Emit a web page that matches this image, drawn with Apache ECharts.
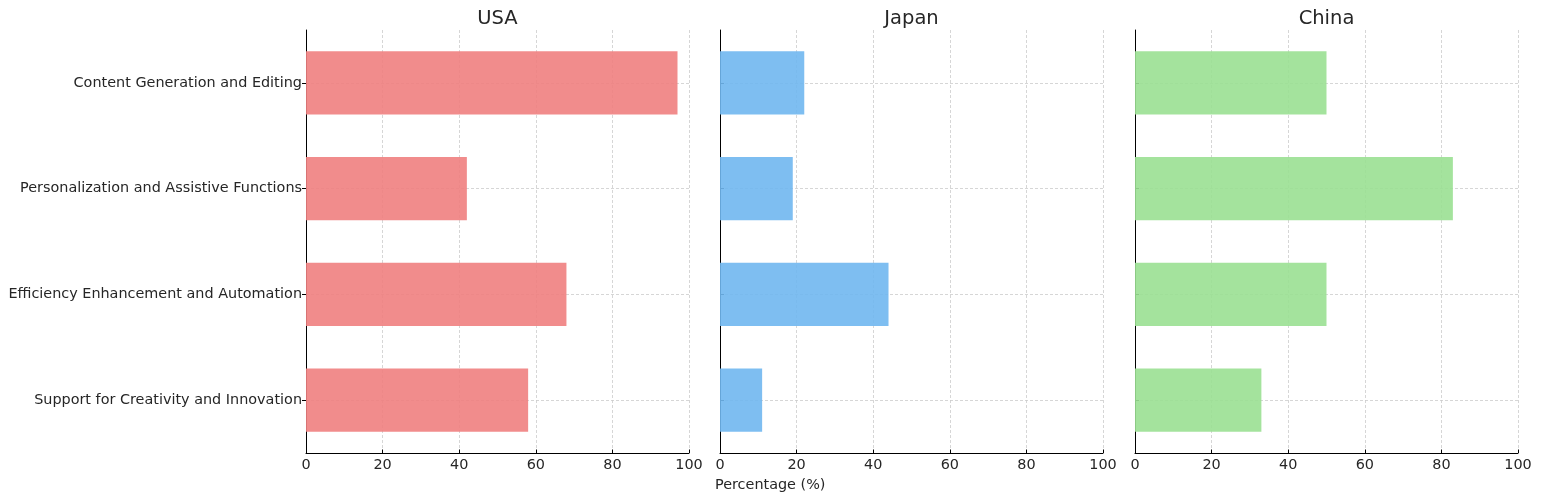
<!DOCTYPE html>
<html>
<head>
<meta charset="utf-8">
<script src="https://cdn.jsdelivr.net/npm/echarts@6/dist/echarts.min.js"></script>
<style>html,body{margin:0;padding:0;background:#fff;}#c{width:1541px;height:502px;}</style>
</head>
<body>
<div id="c"></div>
<script>
const categories = ['Content Generation and Editing', 'Personalization and Assistive Functions', 'Efficiency Enhancement and Automation', 'Support for Creativity and Innovation'];
const countries = ['USA', 'Japan', 'China'];
const usaValues = [97, 42, 68, 58];
const japanValues = [22, 19, 44, 11];
const chinaValues = [50, 83, 50, 33];
const xTicks = [0, 20, 40, 60, 80, 100];
const xLabel = 'Percentage (%)';

const seriesValues = [usaValues, japanValues, chinaValues];
const colors = ['rgba(240,128,128,0.9)', 'rgba(112,183,240,0.9)', 'rgba(154,224,146,0.9)'];
const lefts = [306, 720, 1135];
const W = 383;
const FONT = 'DejaVu Sans';

const chart = echarts.init(document.getElementById('c'), null, {renderer: 'canvas'});
const grids = lefts.map(l => ({left: l, width: W, top: 30, bottom: 49, containLabel: false}));
const xAxes = lefts.map((l, i) => ({
  type: 'value', gridIndex: i, min: xTicks[0], max: xTicks[xTicks.length - 1], interval: xTicks[1] - xTicks[0],
  axisLine: {show: true, onZero: false, lineStyle: {color: '#000', width: 1}},
  axisTick: {show: true, inside: true, length: 3.5, lineStyle: {color: '#000'}},
  axisLabel: {fontFamily: FONT, fontSize: 14.4, color: '#262626', margin: 5},
  splitLine: {show: true, lineStyle: {color: '#cccccc', type: [3, 2], width: 0.8}}
}));
const yAxes = lefts.map((l, i) => ({
  type: 'category', gridIndex: i, data: categories, inverse: true,
  axisLine: {show: true, lineStyle: {color: '#000', width: 1}},
  axisTick: {show: true, alignWithLabel: true, inside: i > 0, length: 4, lineStyle: {color: '#000'}},
  axisLabel: {show: i === 0, fontFamily: FONT, fontSize: 14.4, color: '#262626', margin: 4},
  splitLine: {show: true, alignWithLabel: true, lineStyle: {color: '#cccccc', type: [3, 2], width: 0.8}}
}));
const series = seriesValues.map((vals, i) => ({
  type: 'bar', xAxisIndex: i, yAxisIndex: i, data: vals, barWidth: '60%',
  itemStyle: {color: colors[i]}, silent: true
}));
const titles = countries.map((c, i) => ({
  text: c, left: lefts[i] + W / 2 - 5, top: 4, textAlign: 'center',
  textStyle: {fontFamily: FONT, fontSize: 19.5, fontWeight: 'normal', color: '#262626'}
}));
chart.setOption({
  animation: false,
  title: titles,
  grid: grids,
  xAxis: xAxes,
  yAxis: yAxes,
  series: series,
  graphic: [{
    type: 'text', left: 715, top: 478,
    style: {text: xLabel, fontFamily: FONT, fontSize: 14.4, fill: '#262626'}
  }]
});
</script>
</body>
</html>
